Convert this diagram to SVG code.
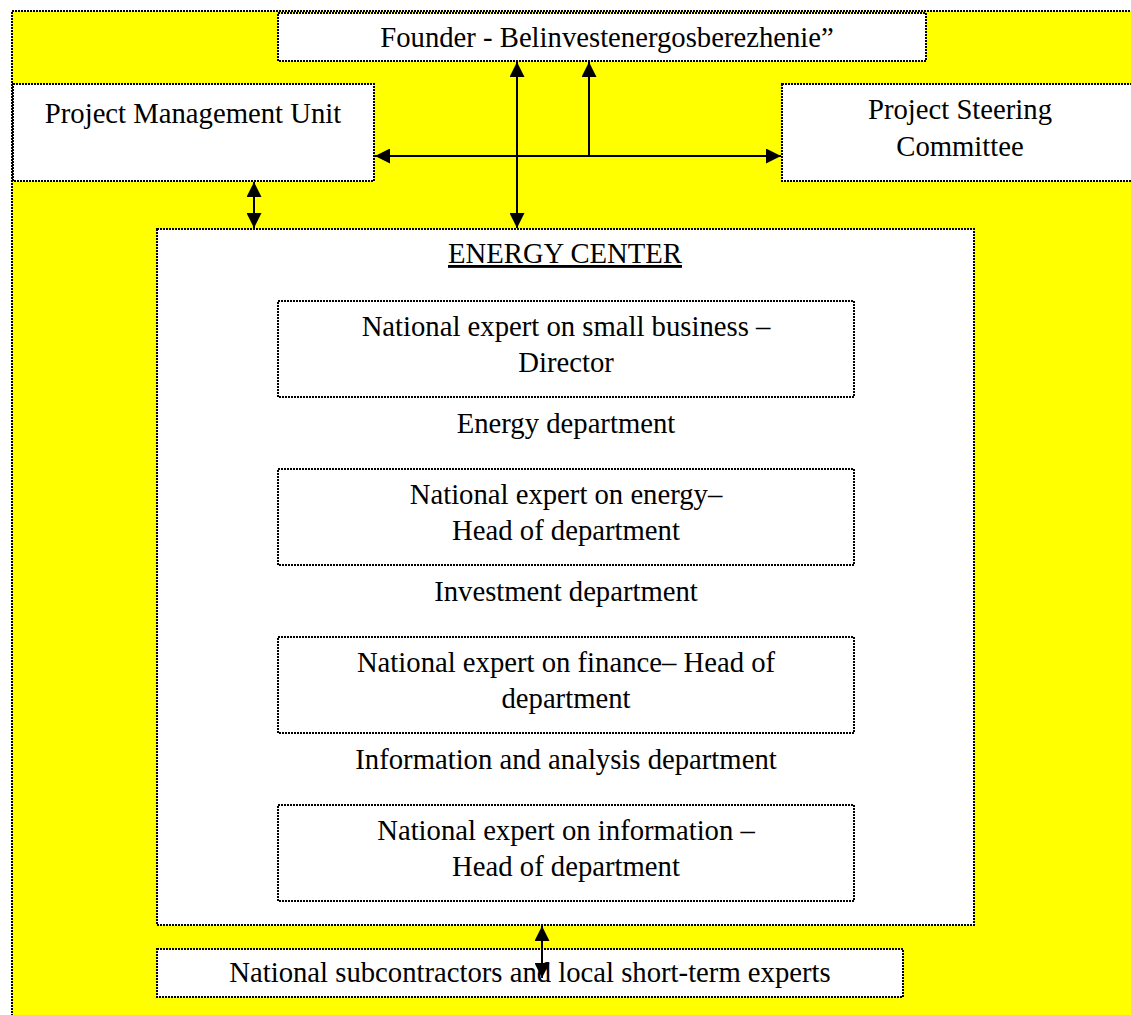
<svg xmlns="http://www.w3.org/2000/svg" width="1131" height="1015" viewBox="0 0 1131 1015">
<style>
  .box { fill: #ffffff; stroke: #000000; stroke-width: 2; stroke-dasharray: 2 1; }
  .t { font-family: "Liberation Serif", "Times New Roman", serif; font-size: 28.7px; fill: #000000; text-anchor: middle; }
  .c { stroke: #000000; stroke-width: 2; fill: none; }
</style>
<defs>
  <marker id="ah" viewBox="0 0 15 15" refX="15" refY="7.5" markerWidth="15" markerHeight="15" markerUnits="userSpaceOnUse" orient="auto-start-reverse">
    <path d="M0,0 L15,7.5 L0,15 Z" fill="#000000"/>
  </marker>
</defs>
<rect width="1131" height="1015" fill="#ffffff"/>
<rect id="background" x="12" y="11" width="1140" height="1020" fill="#ffff00" stroke="#000000" stroke-width="2" stroke-dasharray="2 1"/>

<g id="founder">
  <rect class="box" x="278" y="13" width="648" height="48"/>
  <text class="t" x="607" y="47">Founder - Belinvestenergosberezhenie”</text>
</g>
<g id="pmu">
  <rect class="box" x="13" y="84" width="361" height="97"/>
  <text class="t" x="193" y="123">Project Management Unit</text>
</g>
<g id="psc">
  <rect class="box" x="782" y="84" width="360" height="97"/>
  <text class="t" x="960" y="119">Project Steering</text>
  <text class="t" x="960" y="156">Committee</text>
</g>
<g id="energy-center">
  <rect class="box" x="157" y="229" width="817" height="696"/>
  <text class="t" x="565" y="263" text-decoration="underline">ENERGY CENTER</text>
  <text class="t" x="566" y="433">Energy department</text>
  <text class="t" x="566" y="601">Investment department</text>
  <text class="t" x="566" y="769">Information and analysis department</text>
</g>
<g id="director">
  <rect class="box" x="278" y="301" width="576" height="96"/>
  <text class="t" x="566" y="336">National expert on small business –</text>
  <text class="t" x="566" y="372">Director</text>
</g>
<g id="energy-head">
  <rect class="box" x="278" y="469" width="576" height="96"/>
  <text class="t" x="566" y="504">National expert on energy–</text>
  <text class="t" x="566" y="540">Head of department</text>
</g>
<g id="finance-head">
  <rect class="box" x="278" y="637" width="576" height="96"/>
  <text class="t" x="566" y="672">National expert on finance– Head of</text>
  <text class="t" x="566" y="708">department</text>
</g>
<g id="info-head">
  <rect class="box" x="278" y="805" width="576" height="96"/>
  <text class="t" x="566" y="840">National expert on information –</text>
  <text class="t" x="566" y="876">Head of department</text>
</g>
<g id="subcontractors">
  <rect class="box" x="157" y="949" width="746" height="48"/>
  <text class="t" x="530" y="982">National subcontractors and local short-term experts</text>
</g>

<g id="connectors">
  <line class="c" x1="375" y1="156" x2="781" y2="156" marker-start="url(#ah)" marker-end="url(#ah)"/>
  <line class="c" x1="517" y1="62" x2="517" y2="228" marker-start="url(#ah)" marker-end="url(#ah)"/>
  <line class="c" x1="589" y1="156" x2="589" y2="62" marker-end="url(#ah)"/>
  <line class="c" x1="254" y1="182" x2="254" y2="228" marker-start="url(#ah)" marker-end="url(#ah)"/>
  <line class="c" x1="542" y1="926" x2="542" y2="978" marker-start="url(#ah)" marker-end="url(#ah)"/>
</g>
</svg>
